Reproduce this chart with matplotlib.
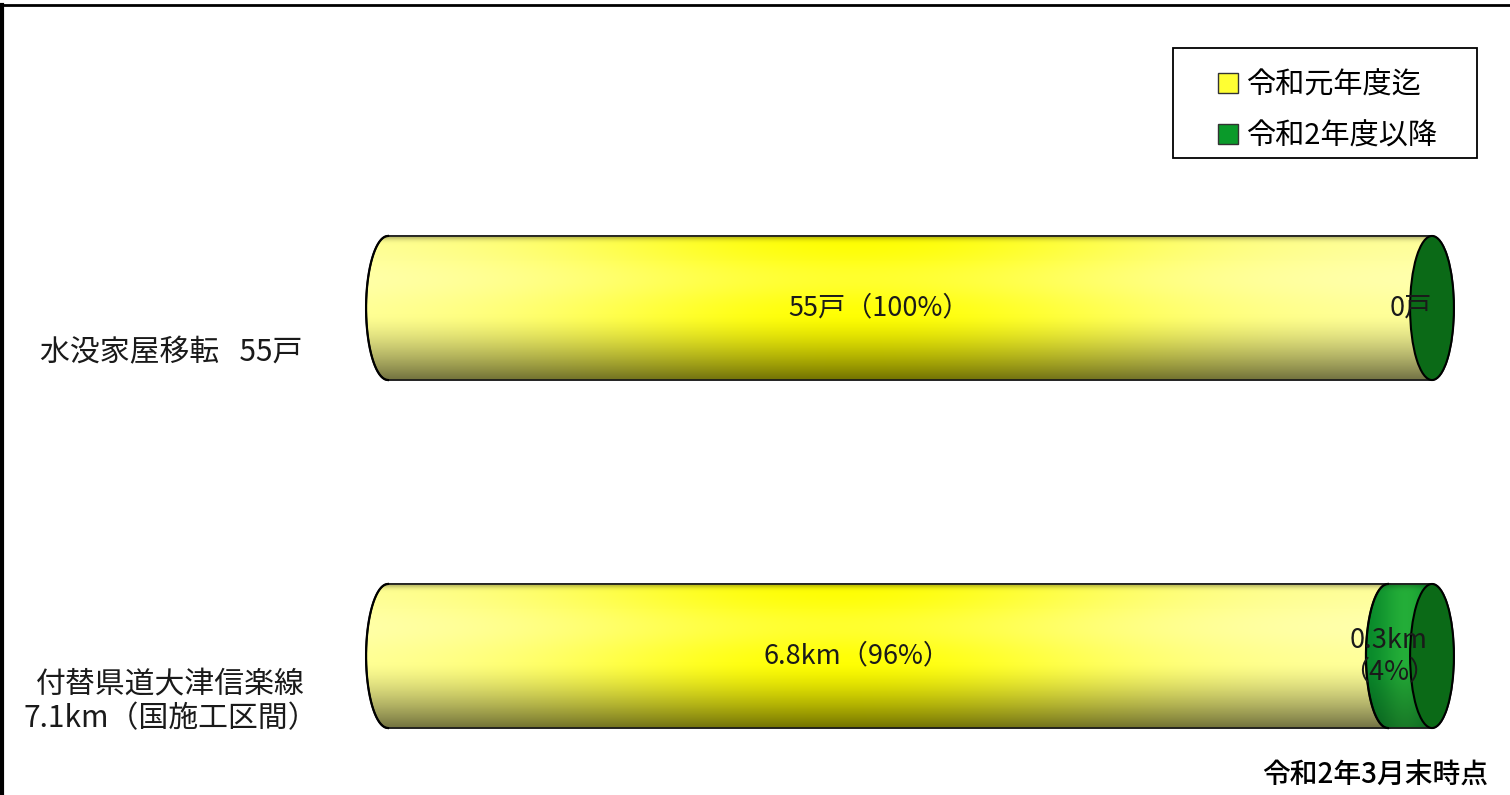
import numpy as np
import matplotlib
matplotlib.use("Agg")
import matplotlib.pyplot as plt
from matplotlib.path import Path
from matplotlib.patches import PathPatch, Ellipse, Rectangle
from matplotlib.lines import Line2D

plt.rcParams['font.family'] = ['Noto Sans CJK JP', 'DejaVu Sans']

# data
categories = ['水没家屋移転   55戸', '付替県道大津信楽線\n7.1km（国施工区間）']
units = ['戸', 'km']
done_vals = [55, 6.8]      # 令和元年度迄
remain_vals = [0, 0.3]     # 令和2年度以降
series_names = ['令和元年度迄', '令和2年度以降']
note = '令和2年3月末時点'

W, H = 1510, 795
BAR_H = 0.414      # bar thickness in category units
CAP_A = 0.021      # half width of the end ellipse (fraction of total)


def yellow_img(nx=400, ny=160):
    x = np.linspace(0, 1, nx)[None, :]
    y = np.linspace(0, 1, ny)[:, None]
    blue = 0.62 * (1 - np.exp(-((x - 0.45) / 0.28) ** 2))
    hl = 0.18 * np.exp(-((y - 0.3) / 0.16) ** 2)
    shade = 1 - 0.3 * np.exp(-(y / 0.03) ** 2)
    shade = shade * (1 - 0.55 * np.clip((y - 0.55) / 0.45, 0, 1) ** 1.4)
    r = np.ones((ny, nx)) * shade
    g = np.ones((ny, nx)) * shade
    b = (blue + (1 - blue) * hl) * shade
    return np.clip(np.dstack([r, g, b]), 0, 1)


def green_img(nx=100, ny=160):
    x = np.linspace(0, 1, nx)[None, :]
    y = np.linspace(0, 1, ny)[:, None]
    light = np.exp(-((x - 0.45) / 0.3) ** 2)
    shade = 1 - 0.25 * np.exp(-(y / 0.03) ** 2)
    shade = shade * (1 - 0.3 * np.clip((y - 0.55) / 0.45, 0, 1))
    r = (0.02 + 0.12 * light) * shade
    g = (0.52 + 0.16 * light) * shade
    b = (0.16 + 0.06 * light) * shade
    ones = np.ones((ny, nx))
    return np.clip(np.dstack([r * ones, g * ones, b * ones]), 0, 1)


def half_ellipse(xc, yc, side, n=40):
    # side=-1 left half, +1 right half
    if side < 0:
        t = np.linspace(-np.pi / 2, np.pi / 2, n)
        return np.column_stack([xc - CAP_A * np.cos(t), yc + BAR_H / 2 * np.sin(t)])
    t = np.linspace(np.pi / 2, -np.pi / 2, n)
    return np.column_stack([xc + CAP_A * np.cos(t), yc + BAR_H / 2 * np.sin(t)])


def body_path(x0, x1, yc):
    pts = np.vstack([half_ellipse(x0, yc, -1), half_ellipse(x1, yc, 1)])
    pts = np.vstack([pts, pts[:1]])
    return Path(pts, closed=True)


fig = plt.figure(figsize=(W / 100, H / 100), dpi=100)

# axes placed so that 0 -> px 388, 1 -> px 1432, category 0 -> py 308, 1 -> py 656
px0, px1 = 388, 1432
py0, py1 = 308, 656
xl, xr = -0.05, 1.05
yt, yb = -0.35, 1.3
sx = px1 - px0
sy = py1 - py0
ax = fig.add_axes([(px0 + xl * sx) / W, 1 - (py0 + yb * sy) / H,
                   (xr - xl) * sx / W, (yb - yt) * sy / H])
ax.set_xlim(xl, xr)
ax.set_ylim(yb, yt)
ax.axis('off')

for i, cat in enumerate(categories):
    total = done_vals[i] + remain_vals[i]
    shares = [done_vals[i] / total, remain_vals[i] / total]
    starts = [0, shares[0]]
    imgs = [yellow_img(), green_img()]
    for j in range(2):
        x0, x1 = starts[j], starts[j] + shares[j]
        if shares[j] <= 0:
            continue
        patch = PathPatch(body_path(x0, x1, i), facecolor='none', edgecolor='#1a1a1a',
                          lw=1.3, zorder=3 + 2 * j)
        ax.add_patch(patch)
        im = ax.imshow(imgs[j], extent=(x0 - CAP_A, x1 + CAP_A, i + BAR_H / 2, i - BAR_H / 2),
                       aspect='auto', interpolation='bilinear', zorder=2 + 2 * j)
        im.set_clip_path(patch)
        lc = half_ellipse(x0, i, -1)
        ax.plot(lc[:, 0], lc[:, 1], color='black', lw=1.6, zorder=3 + 2 * j)
    ax.add_patch(Ellipse((1, i), 2 * CAP_A, BAR_H, facecolor='#0b6a17',
                         edgecolor='black', lw=1.5, zorder=8))

    # value labels
    for j, v in enumerate([done_vals[i], remain_vals[i]]):
        txt = f"{v:g}{units[i]}"
        if v > 0:
            sep = '\n' if shares[j] < 0.1 else ''
            txt += f"{sep}（{shares[j] * 100:.0f}%）"
        if j == 0:
            xpos = starts[j] + shares[j] / 2 - 0.03
        else:
            xpos = starts[j] + shares[j] / 2 - 0.02
        ax.text(xpos, i, txt, ha='center', va='center', fontsize=19.5,
                color='#1a1a1a', zorder=20, linespacing=1.2)

    ax.text(-0.208, i + 0.13, cat, ha='center', va='center', fontsize=21.5,
            color='#1a1a1a', linespacing=1.12, clip_on=False)

ax.set_ylim(yb, yt)
ax.set_xlim(xl, xr)

# legend
handles = [Line2D([], [], marker='s', ls='none', markersize=14,
                  markerfacecolor='#ffff33', markeredgecolor='#333333'),
           Line2D([], [], marker='s', ls='none', markersize=14,
                  markerfacecolor='#0a9a2a', markeredgecolor='#333333')]
fig.add_artist(Rectangle((1173 / W, 1 - 158 / H), 304 / W, 110 / H,
                         transform=fig.transFigure, fill=False, edgecolor='black', lw=1.3))
fig.legend(handles, series_names, loc='upper left', bbox_to_anchor=(1196 / W, 1 - 50 / H),
           frameon=False, fontsize=21, handlelength=0.8, handletextpad=0.2,
           labelspacing=0.72, borderpad=0.2)

fig.text(1488 / W, 1 - 775 / H, note, ha='right', va='center', fontsize=20,
         fontweight='medium', color='black')

# frame lines (top and left only)
fig.add_artist(Line2D([0, 1], [1 - 5 / H, 1 - 5 / H], transform=fig.transFigure,
                      color='black', lw=2))
fig.add_artist(Line2D([1.5 / W, 1.5 / W], [0, 1 - 5 / H], transform=fig.transFigure,
                      color='black', lw=3))

fig.savefig('out.png', dpi=100)
